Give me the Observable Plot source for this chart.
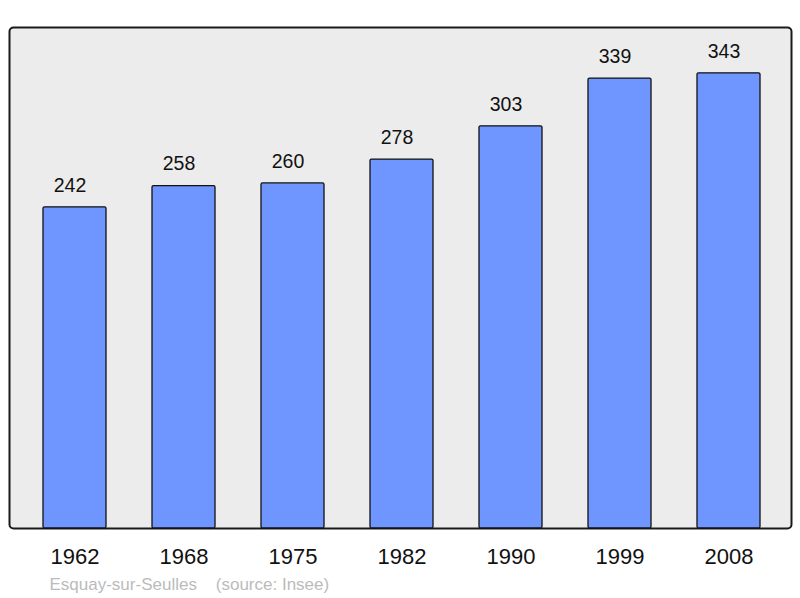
<!DOCTYPE html>
<html>
<head>
<meta charset="utf-8">
<script src="https://cdn.jsdelivr.net/npm/d3@7"></script>
<script src="https://cdn.jsdelivr.net/npm/@observablehq/plot@0.6"></script>
<style>
  html, body { margin: 0; padding: 0; background: #ffffff; }
  #chart svg { display: block; font-family: "Liberation Sans", Arial, sans-serif; }
</style>
</head>
<body>
<div id="chart"></div>
<script>
const years = ["1962", "1968", "1975", "1982", "1990", "1999", "2008"];
const population = [242, 258, 260, 278, 303, 339, 343];
const caption = "Esquay-sur-Seulles    (source: Insee)";

const data = years.map((y, i) => ({year: y, value: population[i]}));

const chart = Plot.plot({
  width: 800,
  height: 598,
  marginTop: 27,
  marginBottom: 70,
  marginLeft: 9,
  marginRight: 9,
  style: {fontFamily: "Liberation Sans, Arial, sans-serif", background: "#ffffff"},
  x: {domain: years, range: [18.3, 783.6], paddingInner: 0.4238, paddingOuter: 0.2119, axis: null},
  y: {domain: [0, 377.5], axis: null},
  marks: [
    Plot.frame({fill: "#ececec", stroke: "#1a1a1a", strokeWidth: 2, rx: 4}),
    Plot.barY(data, {x: "year", y: "value", fill: "#6f96ff", stroke: "#111", strokeWidth: 1.3, rx: 1.5}),
    Plot.text(data, {x: "year", y: "value", text: d => String(d.value), dy: -22, dx: -5, fontSize: 19.5, fill: "#111"}),
    Plot.text(years, {x: d => d, frameAnchor: "bottom", lineAnchor: "middle", dy: 28, fontSize: 22, fill: "#111"}),
    Plot.text([caption], {frameAnchor: "bottom-left", lineAnchor: "middle", text: d => d, dx: 40, dy: 56, fontSize: 17, fill: "#bbbbbb", textAnchor: "start", style: "white-space: pre"})
  ]
});
document.getElementById("chart").appendChild(chart);
</script>
</body>
</html>
